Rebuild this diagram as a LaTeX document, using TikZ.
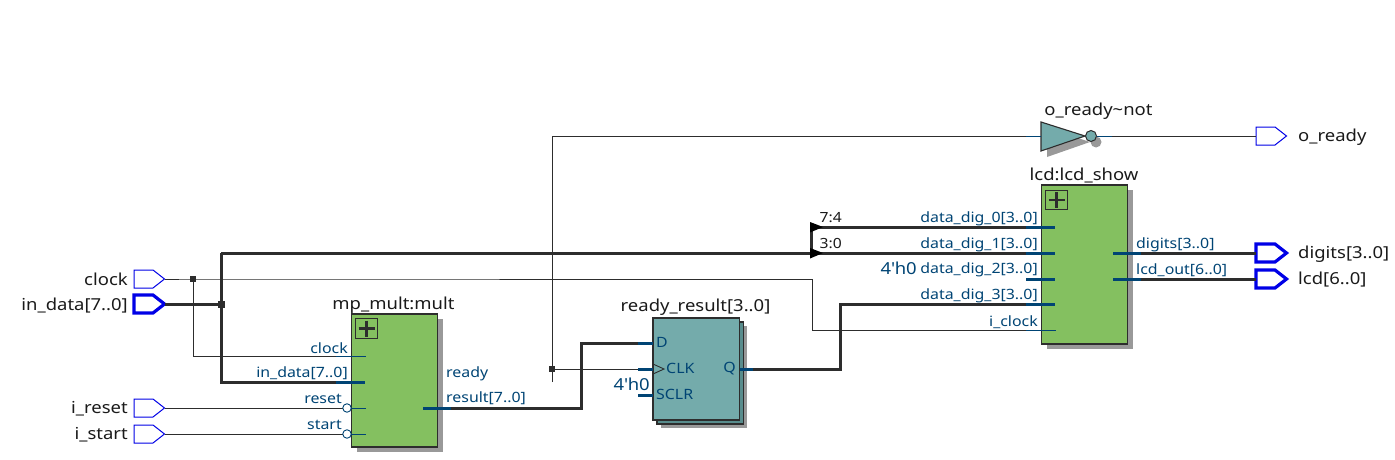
\documentclass[tikz,border=0pt]{standalone}
\usepackage{fontspec}
\setmainfont[FakeStretch=1.12]{Noto Sans}
\usetikzlibrary{calc}
\definecolor{wirec}{HTML}{2D2D2D}
\definecolor{portc}{HTML}{004474}
\definecolor{pinc}{HTML}{0000E6}
\definecolor{greenc}{HTML}{84C060}
\definecolor{tealc}{HTML}{74ABAB}
\definecolor{tealb}{HTML}{588C8C}
\definecolor{shadc}{HTML}{999999}
\definecolor{txtc}{HTML}{1A1A1A}
\tikzset{
  wire/.style={draw=wirec,line width=0.9pt},
  bus/.style={draw=wirec,line width=3pt},
  pstub/.style={draw=portc,line width=0.9pt},
  bstub/.style={draw=portc,line width=3pt},
  pinthin/.style={draw=pinc,fill=white,line width=1pt},
  pinthick/.style={draw=pinc,fill=white,line width=3.2pt},
  sigtext/.style={text=txtc,font=\fontsize{16.5}{18}\selectfont,inner sep=0pt},
  pname/.style={text=portc,font=\fontsize{14.2}{16}\selectfont,inner sep=0pt},
  modbox/.style={draw=wirec,line width=1.1pt,fill=greenc,minimum width=86pt,inner sep=0pt,outer sep=0pt},
  ffbox/.style={draw=wirec,line width=1.1pt,fill=tealc,minimum width=86.5pt,minimum height=102pt,inner sep=0pt,outer sep=0pt},
  shad/.style={fill=shadc,draw=none,inner sep=0pt,outer sep=0pt},
  junc/.style={fill=wirec,draw=none,minimum size=7pt,inner sep=0pt},
  plusbox/.style={draw=wirec,line width=1.1pt,minimum width=21.5pt,minimum height=19.5pt,inner sep=0pt},
  bubble/.style={circle,draw=portc,line width=0.9pt,minimum size=8.5pt,inner sep=0pt},
  splitt/.style={fill=black,draw=none}
}
% \pinshape{name}{x}{y}{style}: pentagon pin, coordinates name-l and name-r
\newcommand{\pinshape}[4]{%
  \draw[#4] (#2,#3-9) -- (#2+19,#3-9) -- (#2+30.5,#3) -- (#2+19,#3+9) -- (#2,#3+9) -- cycle;
  \coordinate (#1-l) at (#2,#3);
  \coordinate (#1-r) at (#2+30.5,#3);
}
\newcommand{\plussign}[2]{%
  \node[plusbox] (#1) at (#2) {};
  \draw[draw=wirec,line width=2.4pt] ($(#1)+(-8,0)$) -- ($(#1)+(8,0)$) ($(#1)+(0,-8)$) -- ($(#1)+(0,8)$);
}
\begin{document}
\begin{tikzpicture}[x=1pt,y=-1pt]
\useasboundingbox (0,0) rectangle (1395,460);
% pins
\pinshape{clk}{134}{279}{pinthin}
\pinshape{ind}{134}{304}{pinthick}
\pinshape{rst}{134}{408}{pinthin}
\pinshape{sta}{134}{434}{pinthin}
\pinshape{ordy}{1256}{136}{pinthin}
\pinshape{dig}{1256}{253}{pinthick}
\pinshape{lcd}{1256}{279}{pinthick}
\node[sigtext,anchor=east] (tclk) at (128,279.5) {clock};
\node[sigtext,anchor=east] (tind) at (128,305.5) {in\_data[7..0]};
\node[sigtext,anchor=east] (trst) at (128,408.5) {i\_reset};
\node[sigtext,anchor=east] (tsta) at (128,434.5) {i\_start};
\node[sigtext,anchor=west] (tordy) at (1298,137) {o\_ready};
\node[sigtext,anchor=west] (tdig) at (1298,254) {digits[3..0]};
\node[sigtext,anchor=west] (tlcd) at (1298,280) {lcd[6..0]};
% junction and helper coordinates
\coordinate (jclk) at (193,279);
\coordinate (jind) at (221,304);
\coordinate (jrdy) at (552,369);
\coordinate (split) at (811,253);
\coordinate (splittop) at (811,227);
% shadows
\node[shad,minimum width=86pt,minimum height=133pt,anchor=north west] (mshad) at (357,319) {};
\node[shad,minimum width=86pt,minimum height=159pt,anchor=north west] (lshad) at (1047,190) {};
\node[shad,minimum width=86.5pt,minimum height=102pt,anchor=north west] (fshad) at (660.5,325.5) {};
\fill[shadc] (1047,128) -- (1047,157) -- (1090,142) -- cycle;
\fill[shadc] (1096,142) circle (5.5pt);
% wires
\draw[wire] (clk-r) -- (jclk) -- (812,279) -- (812,330) -- (1042,330);
\draw[wire] (jclk) -- (193,356) -- (351,356);
\draw[bus] (ind-r) -- (jind);
\draw[bus] (221,253) -- (221,382) -- (351,382);
\draw[bus] (221,253) -- (split) -- (1042,253);
\draw[bus] (split) -- (splittop) -- (1042,227);
\draw[wire] (rst-r) -- (343,408);
\draw[wire] (sta-r) -- (343,434);
\draw[wire] (552,382) -- (jrdy) -- (638,369);
\draw[wire] (jrdy) -- (552,136) -- (1041,136);
\draw[wire] (1097,136) -- (ordy-l);
\draw[bus] (451,408) -- (581,408) -- (581,343) -- (638,343);
\draw[bus] (753,369) -- (840,369) -- (840,304) -- (1042,304);
\draw[bus] (1141,253) -- (dig-l);
\draw[bus] (1141,279) -- (lcd-l);
% split arrows
\fill[splitt] (810,222) -- (823,227) -- (810,232.5) -- cycle;
\fill[splitt] (810,248) -- (823,253) -- (810,258.5) -- cycle;
\node[text=txtc,font=\fontsize{14}{15}\selectfont,inner sep=0pt,anchor=west] (t74) at (819.5,217.5) {7:4};
\node[text=txtc,font=\fontsize{14}{15}\selectfont,inner sep=0pt,anchor=west] (t30) at (819.5,243.5) {3:0};
% junction dots
\node[junc,minimum size=5.5pt] (dclk) at (jclk) {};
\node[junc] (dind) at (jind) {};
\node[junc,minimum size=5.5pt] (drdy) at (jrdy) {};
% mp_mult
\node[modbox,minimum height=133pt,anchor=north west] (mult) at (351.5,314) {};
\plussign{mplus}{366.5,328.5}
\node[sigtext,anchor=south] (tmult) at (393.5,313.5) {mp\_mult:mult};
\draw[pstub] (336,356) -- (366,356);
\draw[bstub] (336,382) -- (365,382);
\draw[pstub] (351,408) -- (366,408);
\draw[pstub] (351,434) -- (366,434);
\node[bubble] (brst) at (347,408) {};
\node[bubble] (bsta) at (347,434) {};
\draw[bstub] (423,408) -- (451,408);
\node[pname,anchor=south east] (pclk) at (348,353.5) {clock};
\node[pname,anchor=south east] (pind) at (348,380) {in\_data[7..0]};
\node[pname,anchor=south east] (prst) at (342,403.5) {reset};
\node[pname,anchor=south east] (psta) at (342,429.5) {start};
\node[pname,anchor=west] (prdy) at (446,373.5) {ready};
\node[pname,anchor=west] (pres) at (446,398.5) {result[7..0]};
% flip-flop
\node[ffbox,fill=tealb,anchor=north west] (ffb) at (657,322) {};
\node[ffbox,anchor=north west] (ff) at (653,318) {};
\node[sigtext,anchor=south] (tff) at (695.5,316) {ready\_result[3..0]};
\draw[bstub] (638,343) -- (653,343);
\draw[bstub] (638,369) -- (653,369);
\draw[bstub] (638,395) -- (653,395);
\draw[bstub] (739.5,369) -- (753,369);
\draw[draw=wirec,line width=0.9pt] (653,364) -- (664,369) -- (653,374);
\node[pname,anchor=west] (pd) at (656,342.5) {D};
\node[pname,anchor=west] (pc) at (666,368.5) {CLK};
\node[pname,anchor=west] (ps) at (656,394.5) {SCLR};
\node[pname,anchor=east] (pq) at (736,368.5) {Q};
\node[text=portc,font=\fontsize{16.5}{18}\selectfont,inner sep=0pt,anchor=east] (v1) at (650,384) {4\textquotesingle h0};
% inverter
\draw[draw=wirec,line width=1.1pt,fill=tealc] (1041,122) -- (1041,151) -- (1085,136) -- cycle;
\node[circle,draw=wirec,fill=tealc,line width=1pt,minimum size=11pt,inner sep=0pt] (inv) at (1091,136) {};
\draw[pstub] (1026,136) -- (1041,136);
\draw[pstub] (1097,136) -- (1112,136);
\node[sigtext,anchor=south] (tinv) at (1098.5,119.5) {o\_ready\textasciitilde not};
% lcd_show
\node[modbox,minimum height=159pt,anchor=north west] (lcd) at (1041.5,185) {};
\plussign{lplus}{1056.5,200}
\node[sigtext,anchor=south] (tlcdm) at (1084,183.5) {lcd:lcd\_show};
\draw[bstub] (1026,227) -- (1055,227);
\draw[bstub] (1026,253) -- (1055,253);
\draw[bstub] (1026,279) -- (1055,279);
\draw[bstub] (1026,304) -- (1055,304);
\draw[pstub] (1026,330) -- (1056,330);
\draw[bstub] (1113,253) -- (1141,253);
\draw[bstub] (1113,279) -- (1141,279);
\node[pname,anchor=south east] (p0) at (1038,226) {data\_dig\_0[3..0]};
\node[pname,anchor=south east] (p1) at (1038,252) {data\_dig\_1[3..0]};
\node[pname,anchor=south east] (p2) at (1038,277.5) {data\_dig\_2[3..0]};
\node[pname,anchor=south east] (p3) at (1038,303) {data\_dig\_3[3..0]};
\node[pname,anchor=south east] (p4) at (1038,328.5) {i\_clock};
\node[pname,anchor=west] (po1) at (1136,244.5) {digits[3..0]};
\node[pname,anchor=west] (po2) at (1136,270.5) {lcd\_out[6..0]};
\node[text=portc,font=\fontsize{16.5}{18}\selectfont,inner sep=0pt,anchor=east] (v2) at (917,268) {4\textquotesingle h0};
\end{tikzpicture}
\end{document}
